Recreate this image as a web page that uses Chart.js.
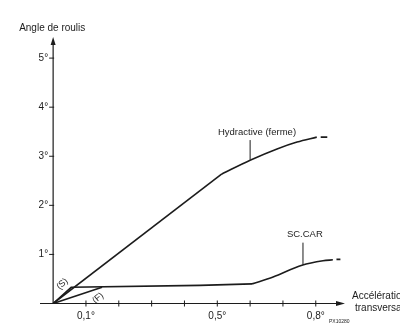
<!DOCTYPE html>
<html>
<head>
<meta charset="utf-8">
<script src="https://cdn.jsdelivr.net/npm/chart.js@4.4.1/dist/chart.umd.min.js"></script>
<style>
  body { margin: 0; background: #fff; }
  #wrap { width: 400px; height: 336px; }
</style>
</head>
<body>
<div id="wrap"><canvas id="rollChart" width="400" height="336"></canvas></div>
<script>
// values: lateral acceleration (g) -> roll angle (deg)
let hydStraightX = [0, 0.514];
let hydStraightY = [0, 2.64];
let hydCurveX = [0.514, 0.600, 0.682, 0.743, 0.803];
let hydCurveY = [2.64, 2.92, 3.15, 3.29, 3.39];
let hydDashX = [0.815, 0.835];
let hydDashY = [3.39, 3.39];

let scFlatX = [0, 0.055, 0.447, 0.606];
let scFlatY = [0, 0.33, 0.37, 0.40];
let scCurveX = [0.606, 0.670, 0.758, 0.822, 0.852];
let scCurveY = [0.40, 0.54, 0.78, 0.87, 0.89];
let scDashX = [0.863, 0.875];
let scDashY = [0.90, 0.90];

let firmX = [0, 0.149];
let firmY = [0, 0.33];

let yTicks = [1, 2, 3, 4, 5];
let yTickLabels = ['1°', '2°', '3°', '4°', '5°'];
let xTicks = [0.1, 0.2, 0.3, 0.4, 0.5, 0.6, 0.7, 0.8];
let xLabelled = [0.1, 0.5, 0.8];
let xLabels = ['0,1°', '0,5°', '0,8°'];

const INK = '#1c1c1c';
const FONT = '"Liberation Sans", Arial, sans-serif';

function pts(xs, ys) {
    return xs.map((x, i) => ({ x: x, y: ys[i] }));
}

function lineSet(label, xs, ys, smooth) {
    return {
        label: label,
        data: pts(xs, ys),
        showLine: true,
        borderColor: INK,
        borderWidth: 1.6,
        pointRadius: 0,
        cubicInterpolationMode: smooth ? 'monotone' : 'default',
        tension: smooth ? 0.4 : 0
    };
}

// axes, arrows, ticks and all the text are drawn by hand from the scales
let handAxes = {
    id: 'handAxes',
    beforeDatasetsDraw(chart) {
        let c = chart.ctx;
        let xs = chart.scales.x, ys = chart.scales.y;
        let area = chart.chartArea;
        let x0 = xs.getPixelForValue(0), y0 = ys.getPixelForValue(0);
        c.save();
        c.strokeStyle = INK;
        c.fillStyle = INK;
        c.lineWidth = 1.2;

        // y axis + arrow
        c.beginPath(); c.moveTo(x0, y0); c.lineTo(x0, area.top + 5); c.stroke();
        c.beginPath();
        c.moveTo(x0, area.top); c.lineTo(x0 - 2.5, area.top + 8); c.lineTo(x0 + 2.5, area.top + 8);
        c.closePath(); c.fill();

        // x axis + arrow
        c.beginPath(); c.moveTo(area.left, y0); c.lineTo(area.right - 5, y0); c.stroke();
        c.beginPath();
        c.moveTo(area.right, y0); c.lineTo(area.right - 9, y0 - 2.5); c.lineTo(area.right - 9, y0 + 2.5);
        c.closePath(); c.fill();

        c.lineWidth = 1;
        yTicks.forEach(v => {
            let py = ys.getPixelForValue(v);
            c.beginPath(); c.moveTo(x0 - 4, py); c.lineTo(x0 + 1, py); c.stroke();
        });
        xTicks.forEach(v => {
            let px = xs.getPixelForValue(v);
            c.beginPath(); c.moveTo(px, y0 - 3); c.lineTo(px, y0 + 3); c.stroke();
        });
        c.restore();
    },
    afterDraw(chart) {
        let c = chart.ctx;
        let xs = chart.scales.x, ys = chart.scales.y;
        let area = chart.chartArea;
        let x0 = xs.getPixelForValue(0), y0 = ys.getPixelForValue(0);
        c.save();
        c.fillStyle = INK;
        c.strokeStyle = INK;
        c.textBaseline = 'middle';

        c.font = '10px ' + FONT;
        c.textAlign = 'right';
        yTicks.forEach((v, i) => c.fillText(yTickLabels[i], x0 - 5, ys.getPixelForValue(v)));
        c.textAlign = 'center';
        xLabelled.forEach((v, i) => c.fillText(xLabels[i], xs.getPixelForValue(v), y0 + 13));

        c.textAlign = 'left';
        c.fillText('Angle de roulis', x0 - 34, area.top - 9);
        c.fillText('Accélération', area.right + 7, y0 - 7);
        c.fillText('transversale', area.right + 10, y0 + 5);

        // curve names with leader lines
        c.font = '9.5px ' + FONT;
        c.fillText('Hydractive (ferme)', xs.getPixelForValue(0.502), ys.getPixelForValue(3.49));
        c.fillText('SC.CAR', xs.getPixelForValue(0.712), ys.getPixelForValue(1.40));
        c.lineWidth = 1;
        c.beginPath();
        c.moveTo(xs.getPixelForValue(0.6), ys.getPixelForValue(3.33));
        c.lineTo(xs.getPixelForValue(0.6), ys.getPixelForValue(2.93));
        c.moveTo(xs.getPixelForValue(0.761), ys.getPixelForValue(1.24));
        c.lineTo(xs.getPixelForValue(0.761), ys.getPixelForValue(0.79));
        c.stroke();

        // (S) and (F) tags, tilted along their segments
        c.font = '9px ' + FONT;
        c.textAlign = 'center';
        c.save();
        c.translate(xs.getPixelForValue(0.028), ys.getPixelForValue(0.40));
        c.rotate(-0.75);
        c.fillText('(S)', 0, 0);
        c.restore();
        c.save();
        c.translate(xs.getPixelForValue(0.137), ys.getPixelForValue(0.11));
        c.rotate(-0.7);
        c.fillText('(F)', 0, 0);
        c.restore();

        c.font = '5px ' + FONT;
        c.textAlign = 'left';
        c.fillText('PX10280', 329, 322);
        c.restore();
    }
};

new Chart(document.getElementById('rollChart'), {
    type: 'scatter',
    data: {
        datasets: [
            lineSet('Hydractive (ferme)', hydStraightX, hydStraightY, false),
            lineSet('Hydractive courbe', hydCurveX, hydCurveY, true),
            lineSet('Hydractive suite', hydDashX, hydDashY, false),
            lineSet('SC.CAR (S)', scFlatX, scFlatY, false),
            lineSet('SC.CAR courbe', scCurveX, scCurveY, true),
            lineSet('SC.CAR suite', scDashX, scDashY, false),
            lineSet('SC.CAR (F)', firmX, firmY, false)
        ]
    },
    options: {
        responsive: false,
        animation: false,
        layout: { padding: { left: 40, right: 55, top: 37, bottom: 32.5 } },
        plugins: { legend: { display: false }, tooltip: { enabled: false } },
        scales: {
            x: { type: 'linear', min: -0.04, max: 0.889, display: false },
            y: { type: 'linear', min: 0, max: 5.43, display: false }
        }
    },
    plugins: [handAxes]
});
</script>
</body>
</html>
